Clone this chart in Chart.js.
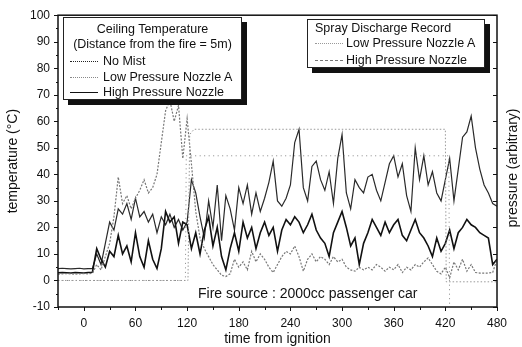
<!DOCTYPE html>
<html lang="en">
  <head>
    <meta charset="UTF-8" />
    <title>Ceiling Temperature vs Time</title>
    <script src="https://cdn.jsdelivr.net/npm/chart.js"></script>
    <style>
      body {
        margin: 0;
        background: #fff;
        font-family: "Liberation Sans", Arial, sans-serif;
        color: #111;
      }
      .wrap {
        position: relative;
        width: 522px;
        height: 347px;
      }
      canvas {
        position: absolute;
        left: 0;
        top: 0;
      }
      .box {
        position: absolute;
        border: 1px solid #222;
        background: #fff;
        box-shadow: 5px 5px 0 #111;
      }
      .txt {
        position: absolute;
        font-size: 12.5px;
        line-height: 14px;
        white-space: nowrap;
      }
      .swatch {
        position: absolute;
        height: 0;
        width: 28px;
      }
    </style>
  </head>
  <body>
    <div class="wrap">
      <canvas id="tempChart" width="522" height="347"></canvas>

      <div class="box" style="left: 63px; top: 17px; width: 177px; height: 81px"></div>
      <div class="txt" style="left: 63px; top: 22px; width: 179px; text-align: center">Ceiling Temperature</div>
      <div class="txt" style="left: 63px; top: 37px; width: 179px; text-align: center">(Distance from the fire = 5m)</div>
      <div class="swatch" style="left: 70px; top: 61px; border-top: 1.5px dotted #222"></div>
      <div class="txt" style="left: 103px; top: 54px">No Mist</div>
      <div class="swatch" style="left: 70px; top: 77px; border-top: 1px dotted #888"></div>
      <div class="txt" style="left: 103px; top: 70px">Low Pressure Nozzle A</div>
      <div class="swatch" style="left: 70px; top: 92px; border-top: 1.5px solid #111"></div>
      <div class="txt" style="left: 103px; top: 85px">High Pressure Nozzle</div>

      <div class="box" style="left: 307px; top: 19px; width: 176px; height: 47px"></div>
      <div class="txt" style="left: 315px; top: 21px">Spray Discharge Record</div>
      <div class="swatch" style="left: 315px; top: 43px; border-top: 1px dotted #999"></div>
      <div class="txt" style="left: 346px; top: 36px">Low Pressure Nozzle A</div>
      <div class="swatch" style="left: 315px; top: 60px; border-top: 1px dashed #777"></div>
      <div class="txt" style="left: 346px; top: 53px">High Pressure Nozzle</div>

      <div class="txt" style="left: 198px; top: 285px; font-size: 14px; line-height: 16px">Fire source : 2000cc passenger car</div>
    </div>

    <script>
      // time axis (s) shared by the three temperature records
      const times = [
        -30, -25, -20, -15, -10, -5, 0, 5, 10, 15,
        20, 25, 30, 35, 40, 45, 50, 55, 60, 65,
        70, 75, 80, 85, 90, 95, 100, 105, 110, 115,
        120, 125, 130, 135, 140, 145, 150, 155, 160, 165,
        170, 175, 180, 185, 190, 195, 200, 205, 210, 215,
        220, 225, 230, 235, 240, 245, 250, 255, 260, 265,
        270, 275, 280, 285, 290, 295, 300, 305, 310, 315,
        320, 325, 330, 335, 340, 345, 350, 355, 360, 365,
        370, 375, 380, 385, 390, 395, 400, 405, 410, 415,
        420, 425, 430, 435, 440, 445, 450, 455, 460, 465,
        470, 475, 480,
      ];

      const noMist = [
        4.5, 4.6, 4.5, 4.4, 4.5, 4.6, 4.4, 4.5, 4.5, 10,
        6, 14, 22, 19, 27, 25, 29, 23, 31, 24,
        26, 22, 25, 18, 24, 21, 25, 20, 23, 19,
        22, 38, 33, 24, 16, 30, 20, 36, 15, 32,
        27, 19, 35, 29, 36, 25, 33, 26, 31, 37,
        45, 30, 28, 31, 36, 52, 57, 35, 30, 43,
        45, 38, 34, 41, 29, 46, 55, 33, 27, 38,
        35, 33, 39, 40, 34, 30, 37, 44, 47, 39,
        44, 32, 26, 50, 38, 47, 36, 41, 33, 30,
        38, 46, 30, 42, 54, 56, 62, 50, 42, 36,
        33, 29, 28,
      ];

      const lowPressureA = [
        2.4, 2.5, 2.6, 2.5, 2.4, 2.5, 2.6, 2.5, 2.7, 6,
        4, 9, 14, 24, 39, 29, 32, 27, 31, 34,
        38, 33, 35, 40, 52, 64, 68, 60, 66, 46,
        61, 44, 26, 16, 12, 9, 6, 4, 2, 1.5,
        2.5, 8, 5, 7, 4, 11, 7, 10, 8, 5,
        3, 6, 9, 11, 10, 13, 9, 3.5, 8, 10,
        7, 9, 8, 6, 9, 7, 8, 5, 4, 3.5,
        5, 4, 5, 4, 6, 5, 3.5, 5, 4, 6,
        3, 5, 4, 6, 5, 7, 8.5, 6, 3.5, 2.5,
        5, 1, 7, 4, 8, 3.5, 6, 3, 2.8, 2.8,
        2.8, 3, 8,
      ];

      const highPressure = [
        2.9, 3.0, 2.9, 2.8, 3.0, 2.9, 2.8, 3.0, 3.1, 12,
        8, 5, 11, 9, 17, 10, 13, 7, 18, 9,
        5, 15, 8, 4.5, 12, 26, 22, 24, 14, 22,
        21, 12, 18, 10, 19, 24, 13, 20, 9, 4,
        12, 18, 11, 22, 16, 20, 12, 18, 22, 17,
        20, 11, 19, 23, 21, 24, 22, 18, 21, 25,
        19, 16, 14, 9, 18, 22, 26, 20, 13, 16,
        6, 14, 18, 23, 20, 17, 22, 18, 21, 23,
        17, 15, 19, 23, 18, 16, 13, 9, 16, 11,
        14, 19, 12, 18, 20, 23, 21, 20, 18, 17,
        16, 6, 8,
      ];

      // spray discharge record (arbitrary pressure units)
      const sprayLowT = [-30, 121, 123, 128, 420, 421, 480];
      const sprayLowP = [0, 0, 55, 57, 57, -0.5, -0.5];
      const sprayHighT = [-30, 118, 119, 424, 425, 480];
      const sprayHighP = [0, 0, 47, 47, -15, -15];

      const xTicks = [0, 60, 120, 180, 240, 300, 360, 420, 480];
      const yTicks = [-10, 0, 10, 20, 30, 40, 50, 60, 70, 80, 90, 100];

      function pts(xs, ys) {
        return xs.map((x, i) => ({ x: x, y: ys[i] }));
      }

      const FONT = '"Liberation Sans", Arial, sans-serif';

      const axisFrame = {
        id: "axisFrame",
        afterDraw(chart) {
          const { ctx, chartArea: a } = chart;
          const x = chart.scales.x;
          const y = chart.scales.y;
          const y2 = chart.scales.y2;
          ctx.save();
          ctx.strokeStyle = "#111";
          ctx.lineWidth = 1.5;
          ctx.strokeRect(a.left, a.top, a.right - a.left, a.bottom - a.top);

          ctx.lineWidth = 1;
          ctx.beginPath();
          yTicks.forEach((v, i) => {
            const py = Math.round(y.getPixelForValue(v)) + 0.5;
            ctx.moveTo(a.left - 4, py);
            ctx.lineTo(a.left, py);
            const ry = Math.round(y2.getPixelForValue(v)) + 0.5;
            ctx.moveTo(a.right - 4, ry);
            ctx.lineTo(a.right, ry);
            if (i < yTicks.length - 1) {
              const my = Math.round(y.getPixelForValue(v + 5)) + 0.5;
              ctx.moveTo(a.left - 2, my);
              ctx.lineTo(a.left, my);
            }
          });
          xTicks.forEach((v) => {
            const px = Math.round(x.getPixelForValue(v)) + 0.5;
            ctx.moveTo(px, a.bottom);
            ctx.lineTo(px, a.bottom + 4);
            const mx = Math.round(x.getPixelForValue(v - 30)) + 0.5;
            ctx.moveTo(mx, a.bottom);
            ctx.lineTo(mx, a.bottom + 3);
          });
          ctx.stroke();

          ctx.fillStyle = "#111";
          ctx.font = "14px " + FONT;
          ctx.textAlign = "center";
          ctx.textBaseline = "middle";
          ctx.translate(513, 168);
          ctx.rotate(-Math.PI / 2);
          ctx.fillText("pressure (arbitrary)", 0, 0);
          ctx.restore();
        },
      };

      new Chart(document.getElementById("tempChart"), {
        type: "line",
        data: {
          datasets: [
            {
              label: "Spray Low Pressure Nozzle A",
              data: pts(sprayLowT, sprayLowP),
              borderColor: "#999",
              borderWidth: 1,
              borderDash: [1.5, 2],
            },
            {
              label: "Spray High Pressure Nozzle",
              data: pts(sprayHighT, sprayHighP),
              borderColor: "#888",
              borderWidth: 1,
              borderDash: [1, 3.5],
            },
            {
              label: "Low Pressure Nozzle A",
              data: pts(times, lowPressureA),
              borderColor: "#777",
              borderWidth: 1.2,
              borderDash: [2, 1.5],
            },
            {
              label: "High Pressure Nozzle",
              data: pts(times, highPressure),
              borderColor: "#111",
              borderWidth: 1.6,
            },
            {
              label: "No Mist",
              data: pts(times, noMist),
              borderColor: "#2a2a2a",
              borderWidth: 1.2,
            },
          ],
        },
        options: {
          responsive: false,
          animation: false,
          devicePixelRatio: 1,
          elements: {
            point: { radius: 0 },
            line: { tension: 0, fill: false },
          },
          layout: { padding: { top: 15, left: 0, right: 0, bottom: 0 } },
          plugins: {
            legend: { display: false },
            tooltip: { enabled: false },
          },
          scales: {
            x: {
              type: "linear",
              min: -30,
              max: 480,
              grid: { display: false, drawTicks: false },
              border: { display: false },
              afterBuildTicks: (s) => {
                s.ticks = xTicks.map((v) => ({ value: v }));
              },
              afterFit: (s) => {
                s.height = 40;
              },
              ticks: {
                padding: 9,
                color: "#111",
                maxRotation: 0,
                font: { family: FONT, size: 12 },
              },
              title: {
                display: true,
                text: "time from ignition",
                color: "#111",
                padding: { top: 0, bottom: -1 },
                font: { family: FONT, size: 14 },
              },
            },
            y: {
              min: -10,
              max: 100,
              grid: { display: false, drawTicks: false },
              border: { display: false },
              afterBuildTicks: (s) => {
                s.ticks = yTicks.map((v) => ({ value: v }));
              },
              afterFit: (s) => {
                s.width = 58;
              },
              ticks: {
                padding: 8,
                color: "#111",
                font: { family: FONT, size: 12 },
              },
              title: {
                display: true,
                text: "temperature (°C)",
                color: "#111",
                padding: { top: 5, bottom: 0 },
                font: { family: FONT, size: 14 },
              },
            },
            y2: {
              position: "right",
              min: -10,
              max: 100,
              grid: { display: false, drawTicks: false },
              border: { display: false },
              ticks: { display: false },
              afterFit: (s) => {
                s.width = 25;
              },
            },
          },
        },
        plugins: [axisFrame],
      });
    </script>
  </body>
</html>
